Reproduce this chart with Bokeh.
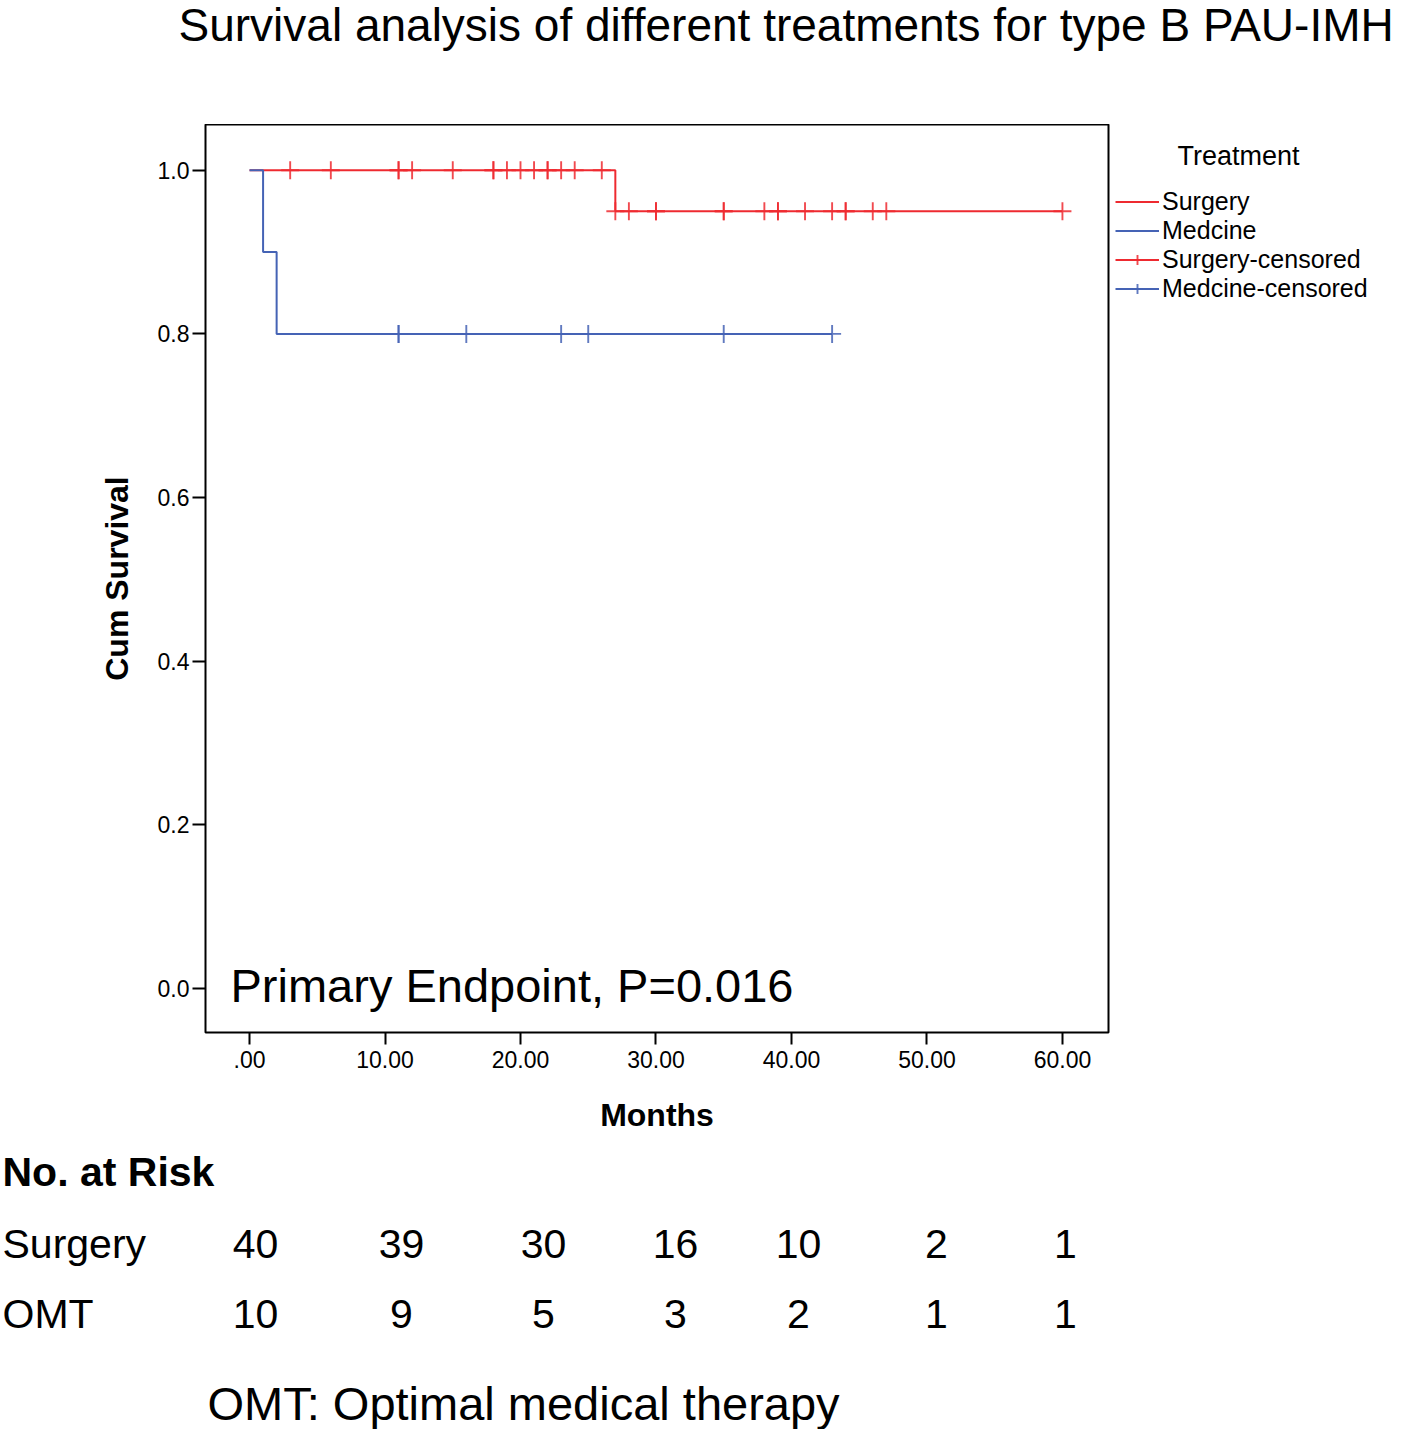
import numpy as np
from bokeh.plotting import figure
from bokeh.layouts import column, row
from bokeh.models import Range1d, FixedTicker, Label, Legend, LegendItem, NumeralTickFormatter
from bokeh.embed import file_html
from bokeh.resources import INLINE

# ---------------- data ----------------
surgery_time = [0, 27, 60]
surgery_surv = [1.0, 0.95, 0.95]
medicine_time = [0, 1, 2, 43]
medicine_surv = [1.0, 0.9, 0.8, 0.8]

surgery_censored = [3, 6, 11, 11, 12, 15, 18, 18, 19, 20, 21, 22, 22, 23, 24, 26,
                    27, 28, 30, 30, 35, 35, 38, 39, 39, 41, 43, 44, 44, 46, 47, 60]
medicine_censored = [11, 11, 16, 23, 25, 35, 43]

x_ticks = [0, 10, 20, 30, 40, 50, 60]
x_tick_labels = [".00", "10.00", "20.00", "30.00", "40.00", "50.00", "60.00"]
y_ticks = [0.0, 0.2, 0.4, 0.6, 0.8, 1.0]

risk_groups = ["Surgery", "OMT"]
surgery_at_risk = [40, 39, 30, 16, 10, 2, 1]
omt_at_risk = [10, 9, 5, 3, 2, 1, 1]

legend_title = "Treatment"
legend_labels = ["Surgery", "Medcine", "Surgery-censored", "Medcine-censored"]

# ---------------- styles / layout ----------------
RED = "#ee2a30"
BLUE = "#4563b5"
FONT = "Liberation Sans"
W = 1416
MAIN_W = 1110
MAIN_H = 1016
risk_col_x = [255, 401, 543, 675, 798, 936, 1065]  # column centres (px)


def km_at(times, surv, t):
    idx = np.searchsorted(np.asarray(times), np.asarray(t), side="right") - 1
    return list(np.asarray(surv)[idx])


def text_panel(w, h, x0=0, y0=0):
    f = figure(width=w, height=h, x_range=Range1d(x0, x0 + w), y_range=Range1d(y0, y0 + h),
               output_backend="svg", toolbar_location=None, frame_align=False,
               min_border_left=0, min_border_right=0, min_border_top=0, min_border_bottom=0)
    f.axis.visible = False
    f.grid.visible = False
    f.outline_line_color = None
    return f


def txt(fig, text, x, y, size, align="left", style="normal"):
    fig.add_layout(Label(x=x, y=y, x_units="screen", y_units="screen", text=text,
                         text_font=FONT, text_font_size=size, text_font_style=style,
                         text_align=align, text_baseline="middle", text_color="black"))


# ---------------- header ----------------
head = text_panel(W, 124)
txt(head, "Survival analysis of different treatments for type B PAU-IMH", 178, 100, "46px")

# ---------------- main plot ----------------
p = figure(width=MAIN_W, height=MAIN_H,
           x_range=Range1d(-3.25, 63.4), y_range=Range1d(-0.054, 1.056),
           output_backend="svg", toolbar_location=None, frame_align=False,
           min_border_left=205, min_border_right=2,
           min_border_top=0, min_border_bottom=108)
p.xgrid.visible = False
p.ygrid.visible = False
p.outline_line_color = "black"
p.outline_line_width = 2

for ax in (p.xaxis, p.yaxis):
    ax.axis_line_color = None
    ax.major_tick_line_color = "black"
    ax.major_tick_line_width = 2
    ax.major_tick_in = 0
    ax.minor_tick_line_color = None
    ax.major_label_text_font = FONT
    ax.major_label_text_font_size = "23px"
    ax.major_label_text_color = "black"
    ax.axis_label_text_font = FONT
    ax.axis_label_text_font_style = "bold"
    ax.axis_label_text_font_size = "32px"
    ax.axis_label_text_color = "black"

p.xaxis.ticker = FixedTicker(ticks=x_ticks)
p.xaxis.major_label_overrides = {t: l for t, l in zip(x_ticks, x_tick_labels)}
p.xaxis.major_tick_out = 12
p.xaxis.major_label_standoff = 6
p.xaxis.axis_label = "Months"
p.xaxis.axis_label_standoff = 26

p.yaxis.ticker = FixedTicker(ticks=y_ticks)
p.yaxis.formatter = NumeralTickFormatter(format="0.0")
p.yaxis.major_tick_out = 13
p.yaxis.major_label_standoff = 3
p.yaxis.axis_label = "Cum Survival"
p.yaxis.axis_label_standoff = 20

step_style = dict(mode="after", line_width=2)
cross_style = dict(marker="cross", size=18, line_width=1.9, line_alpha=0.85)

surg_cens_y = km_at(surgery_time, surgery_surv, surgery_censored)
med_cens_y = km_at(medicine_time, medicine_surv, medicine_censored)

p.step(surgery_time, surgery_surv, line_color=RED, **step_style)
p.scatter(surgery_censored, surg_cens_y, line_color=RED, **cross_style)
p.step(medicine_time, medicine_surv, line_color=BLUE, **step_style)
p.scatter(medicine_censored, med_cens_y, line_color=BLUE, **cross_style)

txt(p, "Primary Endpoint, P=0.016", 25, 47, "47px")

# ---------------- legend panel (right of the plot) ----------------
# the same series are plotted here outside the visible range, only to feed the legend
LEG_W = W - MAIN_W
leg = text_panel(LEG_W, MAIN_H, x0=1000, y0=1000)
l_s = leg.step(surgery_time, surgery_surv, line_color=RED, **step_style)
l_m = leg.step(medicine_time, medicine_surv, line_color=BLUE, **step_style)
l_sc = leg.scatter(surgery_censored, surg_cens_y, line_color=RED, **cross_style)
l_mc = leg.scatter(medicine_censored, med_cens_y, line_color=BLUE, **cross_style)
legend = Legend(items=[
    LegendItem(label=legend_labels[0], renderers=[l_s]),
    LegendItem(label=legend_labels[1], renderers=[l_m]),
    LegendItem(label=legend_labels[2], renderers=[l_s, l_sc]),
    LegendItem(label=legend_labels[3], renderers=[l_m, l_mc]),
], location=(5, 1140 - 303))
legend.padding = 0
legend.margin = 0
legend.spacing = 0
legend.glyph_width = 44
legend.glyph_height = 25
legend.label_height = 25
legend.label_standoff = 3
legend.label_text_font = FONT
legend.label_text_font_size = "25px"
legend.label_text_color = "black"
legend.border_line_color = None
legend.background_fill_alpha = 0
leg.add_layout(legend)
txt(leg, legend_title, 1236 - 1108, 1140 - 155, "27px", align="center")

# ---------------- risk table ----------------
tbl = text_panel(W, 289)
TB = 1429  # page y of table bottom
txt(tbl, "No. at Risk", 2, TB - 1171, "41px", style="bold")
txt(tbl, risk_groups[0], 2, TB - 1243, "41px")
txt(tbl, risk_groups[1], 2, TB - 1313, "41px")
for cx, a, b in zip(risk_col_x, surgery_at_risk, omt_at_risk):
    txt(tbl, str(a), cx, TB - 1243, "41px", align="center")
    txt(tbl, str(b), cx, TB - 1313, "41px", align="center")
txt(tbl, "OMT: Optimal medical therapy", 207, TB - 1403, "47px")

layout = column(head, row(p, leg, spacing=0), tbl, spacing=0)
open("out.html", "w").write(file_html(layout, INLINE))
